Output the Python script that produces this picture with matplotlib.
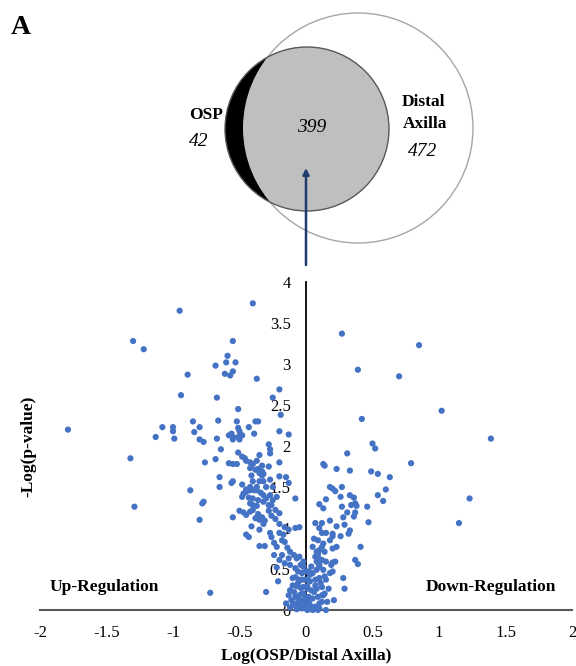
import matplotlib
matplotlib.use("Agg")
import matplotlib.pyplot as plt
from matplotlib.patches import Circle

plt.rcParams["font.family"] = ["Liberation Serif", "DejaVu Serif"]
plt.rcParams["axes.unicode_minus"] = False

# Venn counts
osp_only = 42
shared = 399
distal_only = 472

# volcano: log ratio (OSP/Distal Axilla), -log(p)
log_ratio = [
    # sparse left
    -0.95, -1.30, -1.22, -0.89, -0.94, -1.79, -1.08, -1.00, -1.00, -1.13,
    -0.99, -0.85, -0.80, -0.84, -0.80, -0.77, -1.32, -0.87, -1.29,
    -0.40, -0.55, -0.59, -0.68, -0.60, -0.53, -0.61, -0.57, -0.55, -0.37,
    -0.67, -0.20, -0.25, -0.51, -0.19, -0.66, -0.52, -0.38, -0.36, -0.43,
    -0.51, -0.50, -0.58, -0.56, -0.55, -0.51, -0.50, -0.48, -0.55, -0.67,
    -0.39, -0.20, -0.13, -0.20,
    # dense left
    -0.64, -0.28, -0.27, -0.27, -0.76, -0.68, -0.58, -0.55, -0.52, -0.51,
    -0.48, -0.46, -0.45, -0.42, -0.40, -0.37, -0.35, -0.33, -0.20, -0.28,
    -0.33, -0.35, -0.32, -0.42, -0.38, -0.36, -0.65, -0.65, -0.56, -0.55,
    -0.48, -0.41, -0.33, -0.40, -0.35, -0.32, -0.27, -0.25, -0.15, -0.13,
    -0.30, -0.37, -0.42, -0.45, -0.47, -0.45, -0.42, -0.39, -0.37, -0.34,
    -0.32, -0.48, -0.43, -0.40, -0.36, -0.32, -0.30, -0.27, -0.25, -0.22,
    -0.28, -0.26, -0.40, -0.37, -0.42, -0.08, -0.77, -0.78, -0.80, -0.55,
    -0.50, -0.47, -0.45, -0.42, -0.40, -0.36, -0.33, -0.31, -0.28, -0.26,
    -0.23, -0.20, -0.16, -0.13, -0.08, -0.05, -0.35, -0.38, -0.41, -0.23,
    -0.20, -0.45, -0.43, -0.35, -0.32, -0.35, -0.31, -0.26, -0.24, -0.22,
    -0.18, -0.16, -0.14, -0.12, -0.09, -0.27, -0.20, -0.17, -0.07, -0.05,
    -0.02, -0.24, -0.18, -0.13, -0.12, -0.08, -0.06, -0.03, -0.05, -0.10,
    -0.22, -0.20, -0.16, -0.02, 0.00, -0.21, -0.07, -0.12, -0.13, -0.08,
    -0.05, -0.02, -0.06, -0.01, 0.01, 0.01, -0.30, -0.72, -0.10, -0.03,
    -0.07, -0.11, -0.15, -0.04, -0.03, -0.03, -0.02,
    # sparse right
    0.27, 0.85, 0.39, 0.70, 1.02, 0.42, 1.39, 0.50, 0.52, 0.31,
    0.79, 0.13, 0.14, 0.23, 0.33, 0.49, 0.54, 0.63, 1.23, 1.15,
    # dense right
    0.18, 0.20, 0.22, 0.27, 0.60, 0.54, 0.58, 0.15, 0.26, 0.33,
    0.36, 0.37, 0.34, 0.38, 0.27, 0.10, 0.13, 0.46, 0.31, 0.36,
    0.28, 0.37, 0.29, 0.47, 0.18, 0.07, 0.12, 0.15, 0.20, 0.20,
    0.26, 0.23, 0.32, 0.33, 0.06, 0.41, 0.13, 0.12, 0.10, 0.14,
    0.08, 0.09, 0.12, 0.15, 0.20, 0.23, 0.18, 0.10, 0.12, 0.09,
    0.19, 0.20, 0.20, 0.18, 0.22, 0.37, 0.39, 0.28, 0.29, 0.21,
    0.15,
    # near origin
    -0.02, 0.02, 0.05, 0.08, 0.10, 0.13, -0.01, 0.03, 0.07, 0.10,
    0.14, 0.01, 0.04, 0.08, 0.12, -0.02, 0.02, 0.05, 0.09, 0.13,
    -0.01, 0.03, 0.07, 0.10, 0.01, 0.05, 0.09, 0.12, 0.08, 0.10,
    0.04, 0.07, 0.09, 0.05, 0.15, 0.17, 0.14,
    -0.10, -0.08, -0.06, -0.04, -0.09, -0.05, -0.08, -0.12, -0.04, 0.02,
    0.06, 0.11, 0.03, 0.07, 0.12, 0.16, 0.00, -0.02, 0.04, 0.10,
]
neg_log_p = [
    # sparse left
    3.65, 3.28, 3.18, 2.87, 2.62, 2.20, 2.23, 2.23, 2.18, 2.11,
    2.09, 2.30, 2.23, 2.17, 2.08, 2.05, 1.85, 1.46, 1.26,
    3.74, 3.28, 3.10, 2.98, 3.02, 3.02, 2.88, 2.86, 2.91, 2.82,
    2.59, 2.69, 2.59, 2.45, 2.38, 2.31, 2.30, 2.30, 2.30, 2.23,
    2.22, 2.18, 2.13, 2.15, 2.11, 2.11, 2.08, 2.13, 2.08, 2.09,
    2.15, 2.18, 2.14, 1.63,
    # dense left
    1.96, 2.02, 1.96, 1.91, 1.80, 1.84, 1.79, 1.78, 1.78, 1.92,
    1.87, 1.85, 1.82, 1.80, 1.78, 1.82, 1.89, 1.76, 1.80, 1.75,
    1.69, 1.67, 1.66, 1.73, 1.71, 1.72, 1.62, 1.50, 1.55, 1.57,
    1.53, 1.64, 1.64, 1.57, 1.57, 1.57, 1.59, 1.50, 1.62, 1.55,
    1.50, 1.50, 1.50, 1.47, 1.42, 1.44, 1.46, 1.46, 1.46, 1.43,
    1.40, 1.38, 1.37, 1.36, 1.34, 1.32, 1.36, 1.40, 1.34, 1.38,
    1.28, 1.28, 1.28, 1.27, 1.30, 1.36, 1.32, 1.30, 1.10, 1.13,
    1.21, 1.19, 1.16, 1.20, 1.22, 1.17, 1.13, 1.09, 1.21, 1.15,
    1.11, 1.05, 1.01, 0.98, 1.00, 1.01, 1.10, 1.12, 1.02, 1.22,
    1.18, 0.92, 0.89, 0.98, 1.05, 0.78, 0.78, 0.89, 0.82, 0.77,
    0.85, 0.83, 0.76, 0.71, 0.67, 0.94, 0.94, 0.92, 0.63, 0.65,
    0.59, 0.67, 0.67, 0.63, 0.55, 0.51, 0.47, 0.45, 0.37, 0.39,
    0.52, 0.61, 0.57, 0.53, 0.47, 0.35, 0.29, 0.24, 0.18, 0.16,
    0.18, 0.12, 0.08, 0.06, 0.29, 0.37, 0.22, 0.21, 0.06, 0.02,
    0.01, 0.12, 0.08, 0.55, 0.37, 0.20, 0.04,
    # sparse right
    3.37, 3.23, 2.93, 2.85, 2.43, 2.33, 2.09, 2.03, 1.97, 1.91,
    1.79, 1.78, 1.76, 1.72, 1.70, 1.69, 1.66, 1.62, 1.36, 1.06,
    # dense right
    1.50, 1.48, 1.45, 1.50, 1.47, 1.40, 1.33, 1.35, 1.38, 1.40,
    1.37, 1.30, 1.28, 1.27, 1.26, 1.29, 1.24, 1.26, 1.19, 1.14,
    1.13, 1.19, 1.04, 1.07, 1.09, 1.06, 1.06, 0.94, 0.93, 0.90,
    0.90, 1.02, 0.93, 0.97, 0.87, 0.77, 0.81, 0.77, 0.73, 0.71,
    0.71, 0.65, 0.61, 0.59, 0.75, 0.77, 0.85, 1.00, 0.94, 0.85,
    0.55, 0.58, 0.47, 0.45, 0.59, 0.61, 0.56, 0.39, 0.26, 0.12,
    0.00,
    # near origin
    0.53, 0.47, 0.45, 0.49, 0.53, 0.49, 0.37, 0.35, 0.37, 0.39,
    0.41, 0.26, 0.24, 0.26, 0.28, 0.20, 0.16, 0.14, 0.16, 0.18,
    0.08, 0.06, 0.04, 0.08, 0.00, 0.00, 0.00, 0.10, 0.59, 0.55,
    0.53, 0.65, 0.69, 0.77, 0.37, 0.26, 0.20,
    0.30, 0.40, 0.33, 0.27, 0.22, 0.12, 0.08, 0.03, 0.05, 0.10,
    0.22, 0.33, 0.43, 0.30, 0.18, 0.10, 0.15, 0.28, 0.02, 0.02,
]

x_ticks = [-2, -1.5, -1, -0.5, 0, 0.5, 1, 1.5, 2]
y_ticks = [0, 0.5, 1, 1.5, 2, 2.5, 3, 3.5, 4]

W, H = 576, 666
fig = plt.figure(figsize=(W / 100, H / 100), dpi=100)

# ---- Venn panel in pixel coordinates ----
axv = fig.add_axes([0, 0, 1, 1])
axv.set_xlim(0, W)
axv.set_ylim(H, 0)
axv.axis("off")

big = Circle((358, 128), 115, facecolor="white", edgecolor="#A6A6A6", lw=1.0, zorder=1)
axv.add_patch(big)
axv.add_patch(Circle((307, 129), 82, facecolor="black", edgecolor="none", zorder=2))
inner = Circle((307, 129), 82, facecolor="#BFBFBF", edgecolor="none", zorder=3)
axv.add_patch(inner)
inner.set_clip_path(big)
axv.add_patch(Circle((307, 129), 82, facecolor="none", edgecolor="#5A5A5A", lw=1.0, zorder=4))

axv.text(11, 27, "A", fontsize=20, fontweight="bold", ha="left", va="center")
axv.text(206, 115, "OSP", fontsize=12.5, fontweight="bold", ha="center", va="center")
axv.text(199, 142, str(osp_only), fontsize=14, style="italic", ha="center", va="center")
axv.text(312, 127, str(shared), fontsize=14, style="italic", ha="center", va="center", zorder=5)
axv.text(423, 102, "Distal", fontsize=12.5, fontweight="bold", ha="center", va="center")
axv.text(425, 124, "Axilla", fontsize=12.5, fontweight="bold", ha="center", va="center")
axv.text(423, 152, str(distal_only), fontsize=14, style="italic", ha="center", va="center")

axv.annotate("", xy=(306, 168), xytext=(306, 265),
             arrowprops=dict(arrowstyle="-|>", color="#1F3A70", lw=1.8,
                             mutation_scale=9, shrinkA=0, shrinkB=0),
             zorder=6)

# ---- volcano plot ----
ax = fig.add_axes([40 / W, (H - 610) / H, 532 / W, 328 / H])
ax.scatter(log_ratio, neg_log_p, s=20, color="#4472C4", edgecolors="none",
           zorder=3, clip_on=False)
ax.set_xlim(-2, 2)
ax.set_ylim(0, 4)
ax.set_xticks(x_ticks)
ax.set_xticklabels([f"{t:g}" for t in x_ticks])
ax.set_yticks(y_ticks)
ax.set_yticklabels([f"{t:g}" for t in y_ticks])
ax.spines["top"].set_visible(False)
ax.spines["right"].set_visible(False)
ax.spines["left"].set_position(("data", 0))
ax.spines["left"].set_color("black")
ax.spines["left"].set_linewidth(1.3)
ax.spines["bottom"].set_color("#595959")
ax.spines["bottom"].set_linewidth(1.5)
ax.tick_params(axis="x", length=0, pad=11, labelsize=12)
ax.tick_params(axis="y", length=0, pad=11, labelsize=12)
ax.patch.set_alpha(0)

ax.text(-1.515, 0.28, "Up-Regulation", fontsize=12.5, fontweight="bold",
        ha="center", va="center")
ax.text(1.39, 0.28, "Down-Regulation", fontsize=12.5, fontweight="bold",
        ha="center", va="center")

fig.text(306 / W, 1 - 656 / H, "Log(OSP/Distal Axilla)", fontsize=12.5,
         fontweight="bold", ha="center", va="center")
fig.text(28 / W, 1 - 446 / H, "-Log(p-value)", fontsize=12.5, fontweight="bold",
         ha="center", va="center", rotation=90)

fig.savefig("out.png", dpi=100)
